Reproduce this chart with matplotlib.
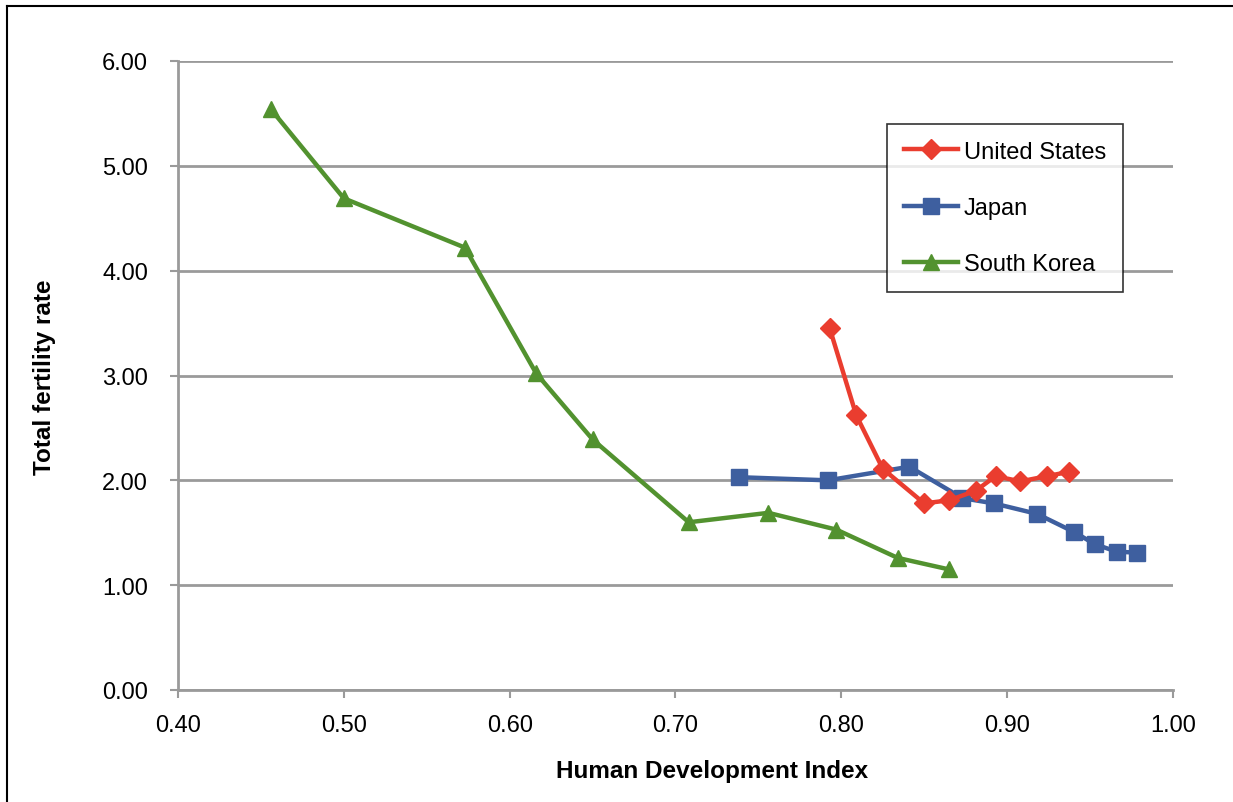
import matplotlib
matplotlib.use('Agg')
import matplotlib.pyplot as plt
from matplotlib.lines import Line2D

plt.rcParams['font.family'] = ['Liberation Sans', 'DejaVu Sans']

# HDI (x) vs total fertility rate (y)
us_hdi = [0.793, 0.809, 0.825, 0.850, 0.865, 0.881, 0.893, 0.908, 0.924, 0.937]
us_tfr = [3.45, 2.62, 2.11, 1.78, 1.81, 1.90, 2.04, 1.99, 2.04, 2.08]

jp_hdi = [0.738, 0.792, 0.841, 0.873, 0.892, 0.918, 0.940, 0.953, 0.966, 0.978]
jp_tfr = [2.03, 2.00, 2.13, 1.83, 1.78, 1.68, 1.51, 1.39, 1.32, 1.31]

kr_hdi = [0.456, 0.500, 0.573, 0.616, 0.650, 0.708, 0.756, 0.797, 0.834, 0.865]
kr_tfr = [5.54, 4.69, 4.22, 3.02, 2.39, 1.60, 1.69, 1.53, 1.26, 1.15]

xticks = [0.40, 0.50, 0.60, 0.70, 0.80, 0.90, 1.00]
yticks = [0.0, 1.0, 2.0, 3.0, 4.0, 5.0, 6.0]

red = '#EA3D2F'
blue = '#3E5F9F'
green = '#52922F'
grey = '#9A9A9A'

W, H = 1233, 803
fig = plt.figure(figsize=(W/100, H/100), dpi=100)
ax = fig.add_axes([178/W, 1 - 691/H, (1173-178)/W, (691-62)/H])

ax.plot(us_hdi, us_tfr, color=red, lw=3.2, marker='D', ms=10, label='United States', zorder=4)
ax.plot(jp_hdi, jp_tfr, color=blue, lw=3.2, marker='s', ms=11, label='Japan', zorder=3)
ax.plot(kr_hdi, kr_tfr, color=green, lw=3.2, marker='^', ms=11, label='South Korea', zorder=3)

ax.set_xlim(0.40, 1.00)
ax.set_ylim(0, 6)
ax.set_xticks(xticks)
ax.set_yticks(yticks)
ax.set_xticklabels(['%.2f' % v for v in xticks])
ax.set_yticklabels(['%.2f' % v for v in yticks])
ax.tick_params(axis='both', labelsize=17, color=grey, width=1.5, length=5.5)
ax.tick_params(axis='x', pad=11.5)
ax.tick_params(axis='y', pad=16)

ax.grid(axis='y', color=grey, lw=2)
ax.set_axisbelow(True)
for side in ['top', 'right']:
    ax.spines[side].set_visible(False)
for side in ['left', 'bottom']:
    ax.spines[side].set_color(grey)
    ax.spines[side].set_linewidth(2)

# axis titles
fig.text(712/W, 1 - 772/H, 'Human Development Index', fontsize=17.5, fontweight='bold',
         ha='center', va='center')
fig.text(45/W, 1 - 377/H, 'Total fertility rate', fontsize=17.5, fontweight='bold',
         rotation=90, ha='center', va='center')

leg = ax.legend(loc='upper left', bbox_to_anchor=((887-178)/995, (691-125)/629),
                fontsize=17, frameon=True, fancybox=False, edgecolor='black',
                borderpad=0.7, labelspacing=1.45, handlelength=2.3, handletextpad=0.25,
                borderaxespad=0)
leg.get_frame().set_linewidth(1.2)

# frame lines along the top and left edge
fig.add_artist(Line2D([7/W, 7/W], [0, 1 - 7/H], transform=fig.transFigure, color='black', lw=1.5))
fig.add_artist(Line2D([7/W, 1], [1 - 7/H, 1 - 7/H], transform=fig.transFigure, color='black', lw=1.5))

fig.savefig('out.png', dpi=100)
